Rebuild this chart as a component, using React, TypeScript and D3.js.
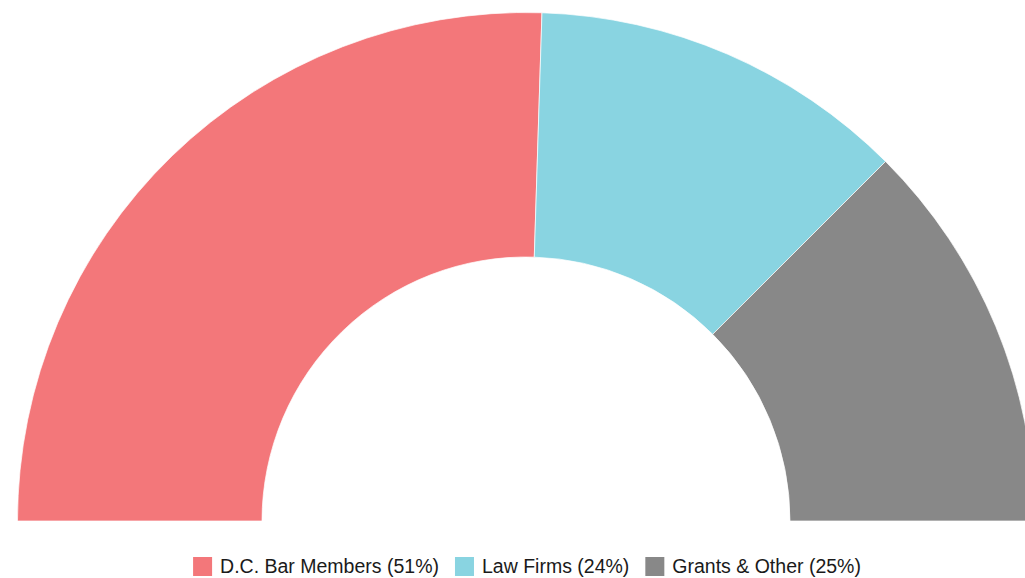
import * as React from "react";
import * as d3 from "d3";

const labels = ["D.C. Bar Members", "Law Firms", "Grants & Other"];
const values = [51, 24, 25];
const colors = ["#F3777A", "#89D4E1", "#888888"];

const GaugeChart = () => {
  const svgRef = React.useRef<SVGSVGElement>(null);

  React.useEffect(() => {
    const width = 1025;
    const height = 578;
    const cx = 526;
    const cy = 521;
    const outer = 508.5;
    const inner = 264;

    const svg = d3.select(svgRef.current).attr("width", width).attr("height", height);
    svg.selectAll("*").remove();

    const data = labels.map((l, i) => ({ label: l, value: values[i], color: colors[i] }));

    const pie = d3
      .pie<any>()
      .sort(null)
      .value((d) => d.value)
      .startAngle(-Math.PI / 2)
      .endAngle(Math.PI / 2);

    const arc = d3.arc<any>().innerRadius(inner).outerRadius(outer);

    svg
      .append("g")
      .attr("transform", `translate(${cx} ${cy})`)
      .selectAll("path")
      .data(pie(data))
      .enter()
      .append("path")
      .attr("d", arc)
      .attr("fill", (d) => d.data.color)
      .attr("stroke", "#fff")
      .attr("stroke-width", 0.7);

    // legend, centred under the gauge
    const legend = svg
      .append("g")
      .attr("font-family", "'Liberation Sans', Arial, sans-serif")
      .attr("font-size", "19.5px");
    const items = legend.selectAll("g").data(data).enter().append("g");

    items
      .append("rect")
      .attr("width", 19)
      .attr("height", 19)
      .attr("y", 557)
      .attr("fill", (d) => d.color);

    items
      .append("text")
      .attr("x", 27)
      .attr("y", 573)
      .attr("fill", "#1a1a1a")
      .text((d) => `${d.label} (${d.value}%)`);

    const gap = 16;
    let offset = 0;
    const positions: number[] = [];
    items.each(function () {
      const t = d3.select(this).select("text").node() as SVGTextElement;
      positions.push(offset);
      offset += 27 + t.getComputedTextLength() + gap;
    });
    const total = offset - gap;
    const start = 527 - total / 2;
    items.attr("transform", (d, i) => `translate(${start + positions[i]} 0)`);
  }, []);

  return <svg ref={svgRef} style={{ position: "absolute", left: 0, top: 0 }} />;
};

export default function App() {
  return <GaugeChart />;
}
